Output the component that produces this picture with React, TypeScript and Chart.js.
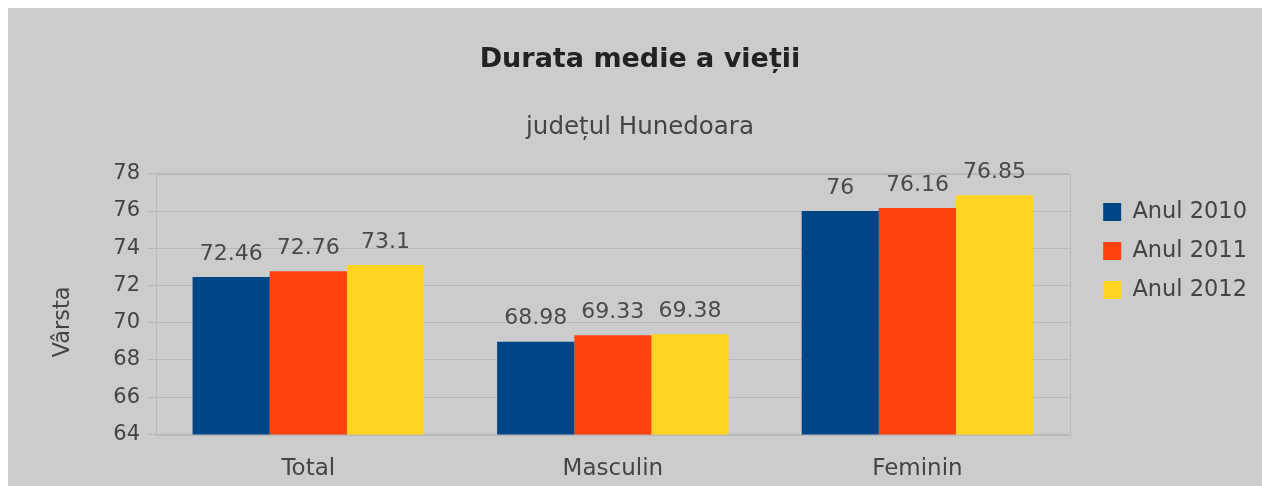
import React, { useEffect, useRef } from "react";
import { Chart, registerables } from "chart.js";

Chart.register(...registerables);

const categories = ["Total", "Masculin", "Feminin"];
const seriesNames = ["Anul 2010", "Anul 2011", "Anul 2012"];
const values2010 = [72.46, 68.98, 76];
const values2011 = [72.76, 69.33, 76.16];
const values2012 = [73.1, 69.38, 76.85];
const seriesColors = ["#004586", "#ff420e", "#ffd320"];
const yMin = 64;
const yMax = 78;
const yStep = 2;

const FONT = "'DejaVu Sans', sans-serif";
const NB = "\u00a0";

const valueLabels = {
  id: "valueLabels",
  afterDatasetsDraw(chart: any) {
    const ctx = chart.ctx;
    ctx.save();
    ctx.font = `22px ${FONT}`;
    ctx.fillStyle = "#4a4a4a";
    ctx.textAlign = "center";
    ctx.textBaseline = "middle";
    chart.data.datasets.forEach((ds: any, di: number) => {
      const meta = chart.getDatasetMeta(di);
      meta.data.forEach((bar: any, i: number) => {
        ctx.fillText(String(ds.data[i]), bar.x, bar.y - 23);
      });
    });
    ctx.restore();
  },
};

const areaBorder = {
  id: "areaBorder",
  beforeDatasetsDraw(chart: any) {
    const { ctx, chartArea } = chart;
    ctx.save();
    ctx.strokeStyle = "#b8b8b8";
    ctx.lineWidth = 1;
    ctx.strokeRect(
      Math.round(chartArea.left) + 0.5,
      Math.round(chartArea.top) + 0.5,
      Math.round(chartArea.right - chartArea.left),
      Math.round(chartArea.bottom - chartArea.top)
    );
    ctx.restore();
  },
};

const boxShift = {
  id: "boxShift",
  afterLayout(chart: any) {
    const l = chart.legend;
    if (l) {
      l.left += 17;
      l.right += 17;
      l.top += 4;
      l.bottom += 4;
    }
    (chart.boxes || []).forEach((b: any) => {
      if (b && b.position === "top" && b.options && typeof b.options.text === "string") {
        b.left += 10;
        b.right += 10;
      }
    });
  },
};

export default function App() {
  const ref = useRef<HTMLCanvasElement | null>(null);
  useEffect(() => {
    if (!ref.current) return;
    const chart = new Chart(ref.current, {
      type: "bar",
      data: {
        labels: categories,
        datasets: [values2010, values2011, values2012].map((d, i) => ({
          label: seriesNames[i],
          data: d,
          backgroundColor: seriesColors[i],
          borderWidth: 0,
          categoryPercentage: 0.76,
          barPercentage: 1.0,
        })),
      },
      options: {
        animation: false,
        responsive: true,
        maintainAspectRatio: false,
        layout: { padding: { left: 12, right: 22, top: 0, bottom: 0 } },
        plugins: {
          title: {
            display: true,
            text: "Durata medie a vieții",
            color: "#222",
            font: { family: FONT, size: 27, weight: "bold" },
            padding: { top: 36, bottom: 17 },
          },
          subtitle: {
            display: true,
            text: "județul Hunedoara",
            color: "#444",
            font: { family: FONT, size: 24.5 },
            padding: { top: 20, bottom: 31 },
          },
          legend: {
            position: "right",
            align: "center",
            labels: {
              boxWidth: 18,
              boxHeight: 18,
              padding: 16.5,
              color: "#444",
              font: { family: FONT, size: 22.5 },
            },
          },
          tooltip: { enabled: false },
        },
        scales: {
          x: {
            grid: { display: false, drawTicks: true, tickLength: 18 },
            border: { display: false },
            ticks: {
              color: "#444",
              font: { family: FONT, size: 23 },
              padding: 3,
            },
          },
          y: {
            min: yMin,
            max: yMax,
            grid: { color: "#b8b8b8", drawTicks: true, tickLength: 8, tickColor: "#b8b8b8" },
            border: { display: false },
            ticks: {
              stepSize: yStep,
              color: "#444",
              font: { family: FONT, size: 21 },
              padding: 8,
            },
            title: {
              display: true,
              text: "Vârsta" + NB.repeat(5),
              color: "#444",
              font: { family: FONT, size: 22.5 },
              padding: { top: 29.5, bottom: 28.8 },
            },
          },
        },
      },
      plugins: [valueLabels, areaBorder, boxShift],
    } as any);
    return () => chart.destroy();
  }, []);
  return (
    <div
      style={{
        position: "absolute",
        left: 8,
        top: 8,
        width: 1254,
        height: 478,
        background: "#cccccc",
      }}
    >
      <canvas ref={ref} />
    </div>
  );
}
